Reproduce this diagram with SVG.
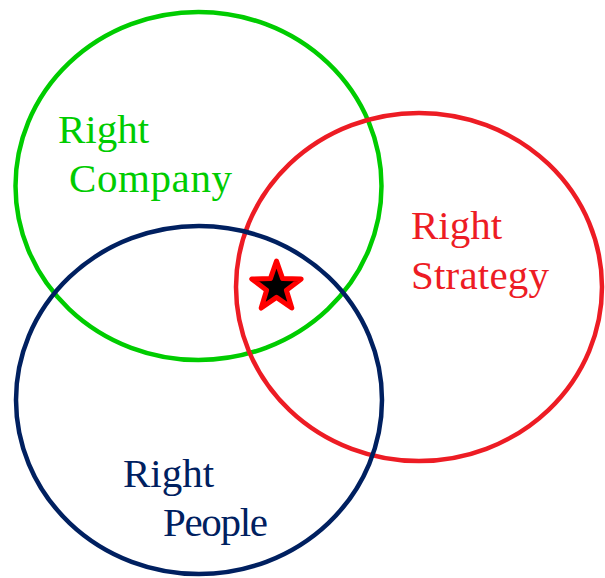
<svg xmlns="http://www.w3.org/2000/svg" width="605" height="578" viewBox="0 0 605 578">
<style>
.c{fill:none;stroke-width:4.5}
.t{font-family:"Liberation Serif","Times New Roman",serif;font-size:41px}
</style>
<rect width="605" height="578" fill="#fff"/>
<g id="company">
<ellipse class="c" cx="198.5" cy="186" rx="183" ry="174" stroke="#00CC00"/>
<text class="t" fill="#00CC00"><tspan x="58" y="143">Right</tspan><tspan x="69" y="192" textLength="163">Company</tspan></text>
</g>
<g id="strategy">
<ellipse class="c" cx="419" cy="287" rx="183" ry="174" stroke="#ED1C24"/>
<text class="t" fill="#ED1C24"><tspan x="411" y="239">Right</tspan><tspan x="411" y="289" textLength="138">Strategy</tspan></text>
</g>
<g id="people">
<ellipse class="c" cx="199" cy="400" rx="183" ry="174" stroke="#002060"/>
<text class="t" fill="#002060"><tspan x="123" y="487">Right</tspan><tspan x="163" y="536" textLength="105">People</tspan></text>
</g>
<g id="star">
<polygon points="276.5,261 282.6,278.6 301.2,279 286.4,290.2 291.8,308 276.5,297.4 261.2,308 266.6,290.2 251.8,279 270.4,278.6" fill="#000" stroke="#FF0000" stroke-width="5" stroke-linejoin="round"/>
</g>
</svg>
